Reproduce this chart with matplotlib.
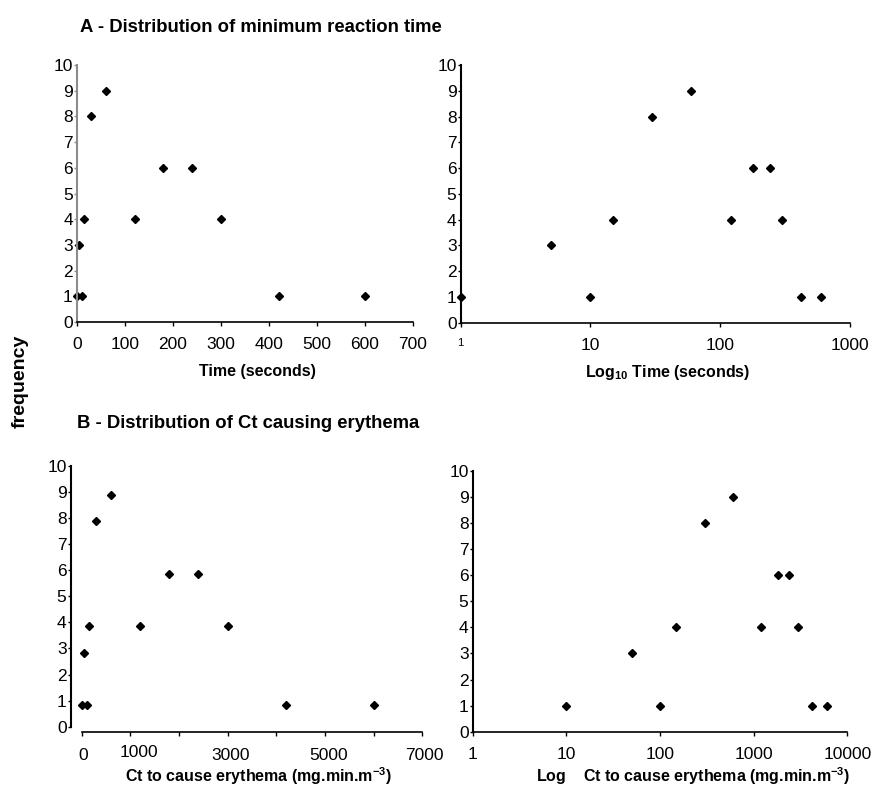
import matplotlib
matplotlib.use("Agg")
import matplotlib.pyplot as plt
import matplotlib.transforms as mtransforms

plt.rcParams['font.family'] = ['Liberation Sans', 'DejaVu Sans']
plt.rcParams['mathtext.fontset'] = 'custom'
plt.rcParams['mathtext.rm'] = 'Liberation Sans:bold'
plt.rcParams['mathtext.it'] = 'Liberation Sans:bold'
plt.rcParams['mathtext.bf'] = 'Liberation Sans:bold'

# ---- data ----
time_s = [1, 5, 10, 15, 30, 60, 120, 180, 240, 300, 420, 600]
freq_time = [1, 3, 1, 4, 8, 9, 4, 6, 6, 4, 1, 1]
ct_erythema = [10, 50, 100, 150, 300, 600, 1200, 1800, 2400, 3000, 4200, 6000]
freq_ct = [1, 3, 1, 4, 8, 9, 4, 6, 6, 4, 1, 1]

yticks = list(range(0, 11))
time_xticks = [0, 100, 200, 300, 400, 500, 600, 700]
logtime_xticks = [1, 10, 100, 1000]
ct_xticks = [0, 1000, 2000, 3000, 4000, 5000, 6000, 7000]
ct_xticklabels = ["0", "1000", "", "3000", "", "5000", "", "7000"]
logct_xticks = [1, 10, 100, 1000, 10000]

title_a = "A - Distribution of minimum reaction time"
title_b = "B - Distribution of Ct causing erythema"
ylabel = "frequency"
xlabel_a1 = "Time (seconds)"
xlabel_a2 = "Log$_{10}$ Time (seconds)"
xlabel_b1 = "Ct to cause erythema (mg.min.m$^{-3}$)"
xlabel_b2 = "Log    Ct to cause erythema (mg.min.m$^{-3}$)"

W, H = 882, 787
fig = plt.figure(figsize=(W / 100, H / 100), dpi=100)


def px_axes(x0, y_top, x1, y_bot):
    return fig.add_axes([x0 / W, 1 - y_bot / H, (x1 - x0) / W, (y_bot - y_top) / H])


TICK_FS = 12.5
LABEL_FS = 11.5
MS = 4.2


def style(ax, ycolor='black'):
    for s in ('top', 'right'):
        ax.spines[s].set_visible(False)
    ax.spines['bottom'].set_linewidth(1.2)
    ax.spines['left'].set_linewidth(1.5)
    ax.spines['left'].set_color(ycolor)
    ax.tick_params(axis='x', direction='out', length=3, width=1, pad=8, labelsize=TICK_FS)
    ax.tick_params(axis='y', direction='out', length=2.5, width=1, pad=0.5, labelsize=TICK_FS,
                   color=ycolor)
    ax.set_ylim(0, 10)
    ax.set_yticks(yticks)
    ax.minorticks_off()
    ax.patch.set_alpha(0)


# ---- A: linear time ----
ax1 = px_axes(77, 65, 413, 322)
ax1.plot(time_s, freq_time, linestyle='none', marker='D', ms=MS, color='black', clip_on=False)
style(ax1, ycolor='#8c8c8c')
ax1.set_xlim(0, 700)
ax1.set_xticks(time_xticks)
ax1.set_xlabel(xlabel_a1, fontsize=LABEL_FS, fontweight='bold', va='center')
ax1.xaxis.set_label_coords(0.536, -0.193)

# ---- A: log time ----
ax2 = px_axes(460.7, 65, 850, 322.7)
ax2.plot(time_s, freq_time, linestyle='none', marker='D', ms=MS, color='black', clip_on=False)
ax2.set_xscale('log')
style(ax2)
ax2.set_xlim(1, 1000)
ax2.set_xticks(logtime_xticks)
ax2.set_xticklabels([str(v) for v in logtime_xticks])
ax2.minorticks_off()
ax2.get_xticklabels()[0].set_fontsize(8)
ax2.set_xlabel(xlabel_a2, fontsize=LABEL_FS, fontweight='bold', va='center')
ax2.xaxis.set_label_coords(0.532, -0.194)

# ---- B: linear Ct ----
ax3 = px_axes(81.7, 468.7, 422.3, 731.5)
ax3.plot(ct_erythema, freq_ct, linestyle='none', marker='D', ms=MS, color='black', clip_on=False)
style(ax3)
ax3.spines['left'].set_visible(False)
ax3.tick_params(axis='y', left=False, labelleft=False)
ax3.set_xlim(0, 7000)
ax3.set_xticks(ct_xticks)
ax3.set_xticklabels(ct_xticklabels)
ax3.tick_params(axis='x', pad=9)
# small label offsets as in the original Excel rendering
label_shifts = {"0": (1, 0), "1000": (9, 3), "3000": (3, 0), "5000": (4, 0), "7000": (2, 0)}
for lab in ax3.get_xticklabels():
    dx, dy = label_shifts.get(lab.get_text(), (0, 0))
    lab.set_transform(lab.get_transform() +
                      mtransforms.ScaledTranslation(dx / 100, dy / 100, fig.dpi_scale_trans))
ax3.set_xlabel(xlabel_b1, fontsize=LABEL_FS, fontweight='bold', va='center')
ax3.xaxis.set_label_coords(0.518, -0.171)

# separate (slightly offset) y axis for B linear
ax3y = px_axes(70.7, 466, 71.2, 726.7)
style(ax3y)
ax3y.spines['bottom'].set_visible(False)
ax3y.set_xticks([])

# ---- B: log Ct ----
ax4 = px_axes(472.7, 471, 847.3, 731.7)
ax4.plot(ct_erythema, freq_ct, linestyle='none', marker='D', ms=MS, color='black', clip_on=False)
ax4.set_xscale('log')
style(ax4)
ax4.set_xlim(1, 10000)
ax4.set_xticks(logct_xticks)
ax4.set_xticklabels([str(v) for v in logct_xticks])
ax4.minorticks_off()
ax4.set_xlabel(xlabel_b2, fontsize=LABEL_FS, fontweight='bold', va='center')
ax4.xaxis.set_label_coords(0.589, -0.172)

# ---- titles / shared label ----
fig.text(80 / W, 1 - 27.5 / H, title_a, fontsize=13.3, fontweight='bold', ha='left', va='center')
fig.text(77.3 / W, 1 - 423 / H, title_b, fontsize=13.3, fontweight='bold', ha='left', va='center')
fig.text(20 / W, 1 - 381 / H, ylabel, fontsize=14, fontweight='bold', rotation=90,
         ha='center', va='center')

fig.savefig("out.png", dpi=100)
